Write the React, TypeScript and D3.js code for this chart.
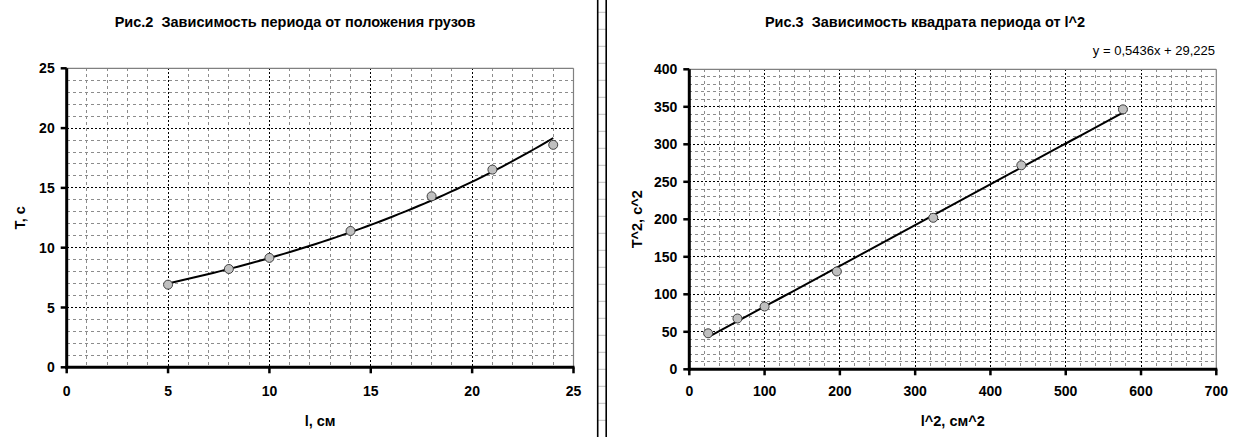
import React from "react";
import * as d3 from "d3";

// ---------- Data ----------
const lengthsCm = [5, 8, 10, 14, 18, 21, 24];
const periodsS = [6.91, 8.22, 9.15, 11.4, 14.3, 16.53, 18.6];

const lengthsSq = [25, 64, 100, 196, 324, 441, 576];
const periodsSq = [48, 67.7, 83.7, 130.5, 202, 272, 346.6];

const leftXTicks = [0, 5, 10, 15, 20, 25];
const leftYTicks = [0, 5, 10, 15, 20, 25];
const rightXTicks = [0, 100, 200, 300, 400, 500, 600, 700];
const rightYTicks = [0, 50, 100, 150, 200, 250, 300, 350, 400];

const trendSlope = 0.5436;
const trendIntercept = 29.225;
const equationLabel = "y = 0,5436x + 29,225";

const leftTitle = "Рис.2  Зависимость периода от положения грузов";
const rightTitle = "Рис.3  Зависимость квадрата периода от l^2";
const leftXLabel = "l, см";
const leftYLabel = "T, с";
const rightXLabel = "l^2, см^2";
const rightYLabel = "T^2, с^2";

const FONT = "'Liberation Sans', Arial, sans-serif";

// exponential least squares fit (Excel "exponential" trendline): y = a * e^(b x)
function expFit(xs: number[], ys: number[]) {
  const n = xs.length;
  const ly = ys.map((v) => Math.log(v));
  const mx = d3.mean(xs) as number;
  const my = d3.mean(ly) as number;
  let sxx = 0, sxy = 0;
  for (let i = 0; i < n; i++) {
    sxx += (xs[i] - mx) * (xs[i] - mx);
    sxy += (xs[i] - mx) * (ly[i] - my);
  }
  const b = sxy / sxx;
  const lnA = my - b * mx;
  return (x: number) => Math.exp(lnA + b * x);
}

type ChartProps = {
  x0: number; x1: number; y0: number; y1: number;
  xDomain: [number, number]; yDomain: [number, number];
  xTicks: number[]; yTicks: number[];
  xMinor: number; yMinor: number;
  xs: number[]; ys: number[];
  trend: (x: number) => number;
  trendFrom: number; trendTo: number;
  title: string; titleX: number;
  xLabel: string; yLabel: string; yLabelX: number;
};

function Chart(p: ChartProps) {
  const x = d3.scaleLinear().domain(p.xDomain).range([p.x0, p.x1]);
  const y = d3.scaleLinear().domain(p.yDomain).range([p.y0, p.y1]);
  const xMinorTicks = d3.range(p.xDomain[0], p.xDomain[1] + 1e-9, p.xMinor)
    .filter((v) => !p.xTicks.some((t) => Math.abs(t - v) < 1e-9));
  const yMinorTicks = d3.range(p.yDomain[0], p.yDomain[1] + 1e-9, p.yMinor)
    .filter((v) => !p.yTicks.some((t) => Math.abs(t - v) < 1e-9));
  const xMajorInner = p.xTicks.slice(1, -1);
  const yMajorInner = p.yTicks.slice(1, -1);

  const samples = d3.range(0, 61).map((i) => p.trendFrom + (p.trendTo - p.trendFrom) * i / 60);
  const line = d3.line<number>().x((v) => x(v)).y((v) => y(p.trend(v)));

  return (
    <g>
      {/* minor grid */}
      {xMinorTicks.map((v) => (
        <line key={"xm" + v} x1={x(v)} x2={x(v)} y1={p.y1} y2={p.y0}
          stroke="#8c8c8c" strokeWidth={1} strokeDasharray="3,3" shapeRendering="crispEdges" />
      ))}
      {yMinorTicks.map((v) => (
        <line key={"ym" + v} x1={p.x0} x2={p.x1} y1={y(v)} y2={y(v)}
          stroke="#8c8c8c" strokeWidth={1} strokeDasharray="3,3" shapeRendering="crispEdges" />
      ))}
      {/* major grid */}
      {xMajorInner.map((v) => (
        <line key={"xM" + v} x1={x(v)} x2={x(v)} y1={p.y1} y2={p.y0}
          stroke="#000" strokeWidth={1} strokeDasharray="2,2" shapeRendering="crispEdges" />
      ))}
      {yMajorInner.map((v) => (
        <line key={"yM" + v} x1={p.x0} x2={p.x1} y1={y(v)} y2={y(v)}
          stroke="#000" strokeWidth={1} strokeDasharray="2,2" shapeRendering="crispEdges" />
      ))}
      {/* top/right border */}
      <line x1={p.x0} x2={p.x1} y1={p.y1} y2={p.y1} stroke="#808080" strokeWidth={1.2} />
      <line x1={p.x1} x2={p.x1} y1={p.y1} y2={p.y0} stroke="#808080" strokeWidth={1.2} />
      {/* trend */}
      <path d={line(samples) || ""} fill="none" stroke="#000" strokeWidth={2} />
      {/* points */}
      {p.xs.map((v, i) => (
        <circle key={"pt" + i} cx={x(v)} cy={y(p.ys[i])} r={4.5}
          fill="#c0c0c0" stroke="#404040" strokeWidth={1} />
      ))}
      {/* axes */}
      <line x1={p.x0} x2={p.x0} y1={p.y1} y2={p.y0 + 1.5} stroke="#000" strokeWidth={3} />
      <line x1={p.x0 - 1.5} x2={p.x1 + 1} y1={p.y0} y2={p.y0} stroke="#000" strokeWidth={3} />
      {p.yTicks.map((v) => (
        <line key={"yt" + v} x1={p.x0 - 6} x2={p.x0} y1={y(v)} y2={y(v)} stroke="#000" strokeWidth={2.5} />
      ))}
      {p.xTicks.map((v) => (
        <line key={"xt" + v} x1={x(v)} x2={x(v)} y1={p.y0} y2={p.y0 + 6} stroke="#000" strokeWidth={2.5} />
      ))}
      {/* tick labels */}
      {p.yTicks.map((v) => (
        <text key={"yl" + v} x={p.x0 - 12} y={y(v) + 5} textAnchor="end"
          fontFamily={FONT} fontWeight="bold" fontSize={14}>{v}</text>
      ))}
      {p.xTicks.map((v) => (
        <text key={"xl" + v} x={x(v)} y={396} textAnchor="middle"
          fontFamily={FONT} fontWeight="bold" fontSize={14}>{v}</text>
      ))}
      {/* axis titles */}
      <text x={(p.x0 + p.x1) / 2} y={426} textAnchor="middle" fontFamily={FONT}
        fontWeight="bold" fontSize={14.5}>{p.xLabel}</text>
      <text transform={`translate(${p.yLabelX},${(p.y0 + p.y1) / 2}) rotate(-90)`} textAnchor="middle"
        fontFamily={FONT} fontWeight="bold" fontSize={14.5}>{p.yLabel}</text>
      {/* title */}
      <text x={p.titleX} y={27} textAnchor="middle" fontFamily={FONT} xmlSpace="preserve"
        style={{ whiteSpace: "pre" }} fontWeight="bold" fontSize={14.5}>{p.title}</text>
    </g>
  );
}

export default function App() {
  const leftTrend = expFit(lengthsCm, periodsS);
  const rightTrend = (v: number) => trendSlope * v + trendIntercept;
  const sepLines = d3.range(12.3, 437, 17);
  return (
    <svg width={1237} height={437} style={{ position: "absolute", left: 0, top: 0, background: "#fff" }}>
      <rect x={0} y={0} width={1237} height={437} fill="#fff" />
      {/* separator (spreadsheet column) */}
      {sepLines.map((v) => (
        <line key={"s" + v} x1={598} x2={606} y1={v} y2={v} stroke="#c0c0c0" strokeWidth={1} />
      ))}
      <line x1={597.7} x2={597.7} y1={0} y2={437} stroke="#000" strokeWidth={1.6} />
      <line x1={606.2} x2={606.2} y1={0} y2={437} stroke="#000" strokeWidth={1.6} />

      <Chart x0={66.7} x1={573.5} y0={367.3} y1={68.3}
        xDomain={[0, 25]} yDomain={[0, 25]}
        xTicks={leftXTicks} yTicks={leftYTicks} xMinor={1} yMinor={1}
        xs={lengthsCm} ys={periodsS} trend={leftTrend}
        trendFrom={lengthsCm[0]} trendTo={lengthsCm[lengthsCm.length - 1]}
        title={leftTitle} titleX={295} xLabel={leftXLabel} yLabel={leftYLabel} yLabelX={25} />
      <Chart x0={689.3} x1={1216.3} y0={369.3} y1={69.3}
        xDomain={[0, 700]} yDomain={[0, 400]}
        xTicks={rightXTicks} yTicks={rightYTicks} xMinor={20} yMinor={10}
        xs={lengthsSq} ys={periodsSq} trend={rightTrend}
        trendFrom={lengthsSq[0]} trendTo={lengthsSq[lengthsSq.length - 1]}
        title={rightTitle} titleX={925} xLabel={rightXLabel} yLabel={rightYLabel} yLabelX={641.5} />
      <text x={1215} y={54.5} textAnchor="end" fontFamily={FONT} fontSize={13}>{equationLabel}</text>
    </svg>
  );
}
